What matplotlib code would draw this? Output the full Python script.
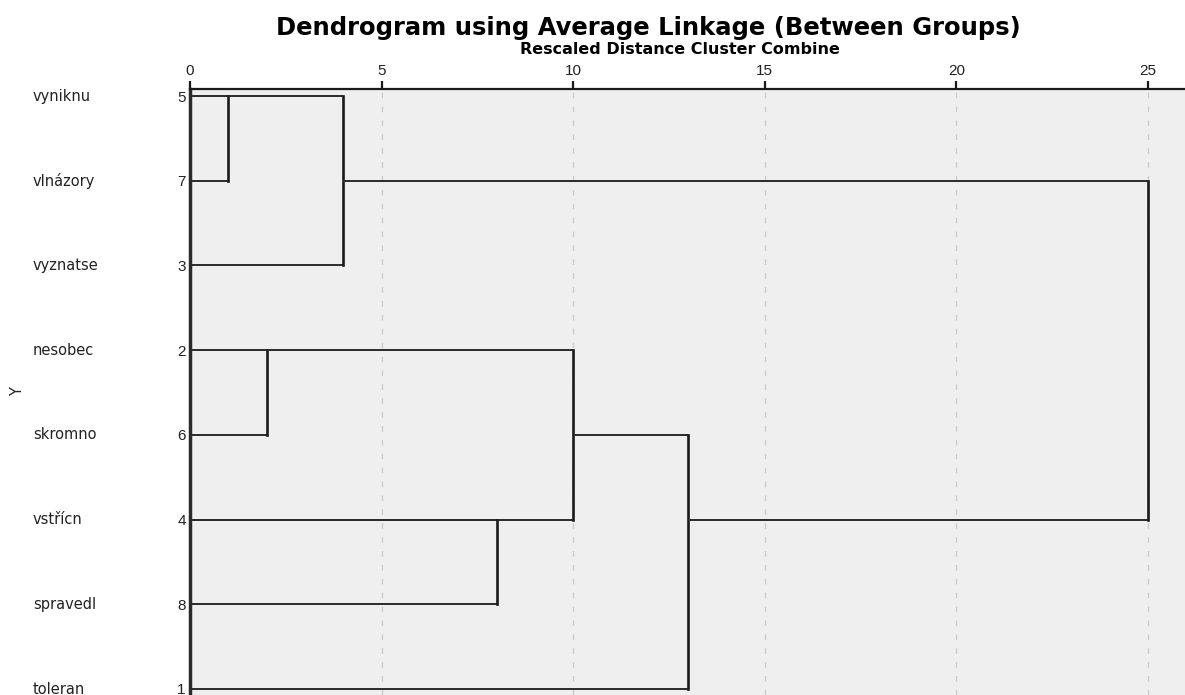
import matplotlib
matplotlib.use('Agg')
import matplotlib.pyplot as plt

plt.rcParams['font.family'] = ['Liberation Sans', 'DejaVu Sans']

# leaves from top to bottom
labels = ['vyniknu', 'vlnázory', 'vyznatse', 'nesobec', 'skromno', 'vstřícn', 'spravedl', 'toleran']
case_nums = ['5', '7', '3', '2', '6', '4', '8', '1']

# merges: top row, bottom row, rescaled distance, row that carries the new cluster
merge_top = [0, 0, 3, 3, 5, 4, 1]
merge_bottom = [1, 2, 4, 5, 6, 7, 5]
merge_dist = [1, 4, 2, 10, 8, 13, 25]
merge_out = [0, 1, 3, 4, 6, 5, 5]

x_ticks = [0, 5, 10, 15, 20, 25]

W, H = 1185, 695
fig = plt.figure(figsize=(W / 100, H / 100), dpi=100)
ax = fig.add_axes([190 / W, 0, 1 - 190 / W, 1 - 89 / H])
ax.set_facecolor('#efefef')

row_h = (689 - 96) / 7
px_x = (1148 - 190) / 25
ax.set_ylim(7 + (H - 689) / row_h, -(96 - 89) / row_h)
ax.set_xlim(0, 25 + (W - 1148) / px_x)

for t in x_ticks[1:]:
    ax.axvline(t, color='#cccccc', lw=1, ls=(0, (4, 6)), zorder=1)

cur = [0] * len(labels)
lc = '#1a1a1a'
for a, b, d, o in zip(merge_top, merge_bottom, merge_dist, merge_out):
    ax.plot([cur[a], d], [a, a], color='#2a2a2a', lw=1.4, zorder=3, solid_capstyle='butt')
    ax.plot([cur[b], d], [b, b], color='#2a2a2a', lw=1.4, zorder=3, solid_capstyle='butt')
    ax.plot([d, d], [a, b], color=lc, lw=1.9, zorder=3, solid_capstyle='projecting')
    cur[o] = d

for s in ['right', 'bottom']:
    ax.spines[s].set_visible(False)
ax.spines['top'].set_linewidth(1.6)
ax.spines['top'].set_color(lc)
ax.spines['left'].set_linewidth(2.5)
ax.spines['left'].set_color('#2a2a2a')

ax.xaxis.tick_top()
ax.set_xticks(x_ticks)
ax.set_xticklabels([str(t) for t in x_ticks], fontsize=11, color='#222222')
ax.tick_params(axis='x', length=6, width=1.6, color=lc, pad=2)

ax.set_yticks(range(len(labels)))
ax.set_yticklabels(case_nums, fontsize=11, color='#222222')
ax.tick_params(axis='y', length=0, pad=3)

for i, lab in enumerate(labels):
    ax.text(-157 / px_x, i, lab, ha='left', va='center', fontsize=10.5,
            color='#222222', family=['DejaVu Sans'])

fig.text(18 / W, 1 - 392 / H, 'Y', rotation=90, ha='center', va='center',
         fontsize=10.5, color='#222222', family=['DejaVu Sans'])

fig.text(648 / W, 1 - 28 / H, 'Dendrogram using Average Linkage (Between Groups)',
         ha='center', va='center', fontsize=17.5, fontweight='bold', family=['DejaVu Sans'])
fig.text(680 / W, 1 - 50 / H, 'Rescaled Distance Cluster Combine',
         ha='center', va='center', fontsize=11.5, fontweight='bold', family=['DejaVu Sans'])

fig.savefig('out.png', dpi=100)
